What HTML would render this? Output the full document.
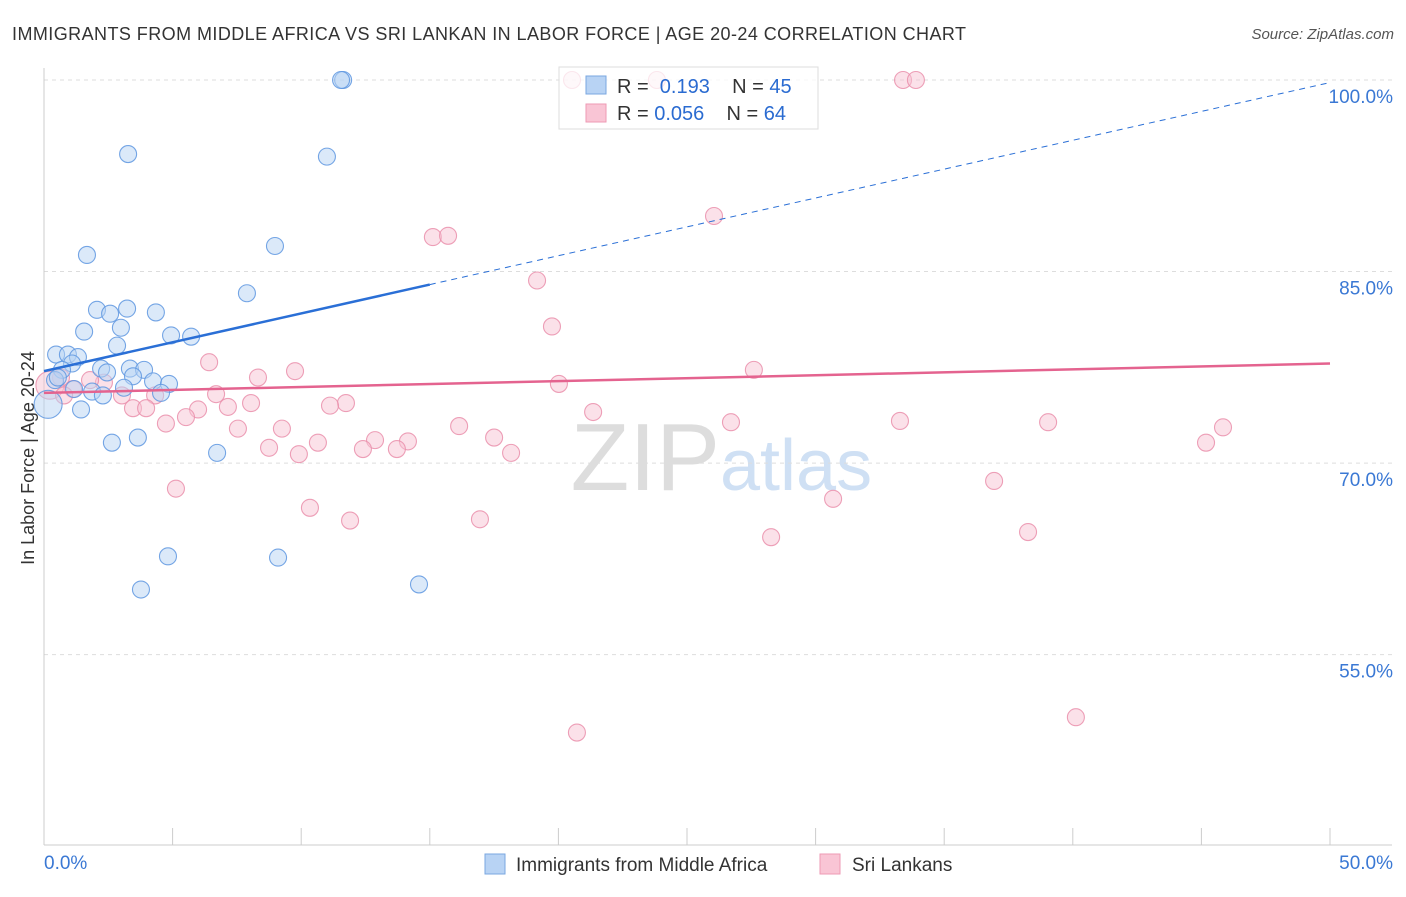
<!DOCTYPE html>
<html><head><meta charset="utf-8"><style>
body{margin:0;background:#fff;font-family:"Liberation Sans",sans-serif}
svg text{font-family:"Liberation Sans",sans-serif}
</style></head><body>
<svg id="c" width="1406" height="892" xmlns="http://www.w3.org/2000/svg">
<text x="12" y="40" font-size="18" fill="#333" textLength="954">IMMIGRANTS FROM MIDDLE AFRICA VS SRI LANKAN IN LABOR FORCE | AGE 20-24 CORRELATION CHART</text>
<text x="1394" y="39" font-size="15" fill="#555" font-style="italic" text-anchor="end">Source: ZipAtlas.com</text>
<text x="720" y="490" font-size="96" fill="#ddd" text-anchor="end" font-family="Liberation Serif">ZIP</text>
<text x="720" y="490" font-size="72" fill="#cfe0f4">atlas</text>
<text transform="translate(34,458) rotate(-90)" font-size="18" fill="#333" text-anchor="middle">In Labor Force | Age 20-24</text>
<g id="grid"></g><g id="pts"></g><g id="lines"></g>
<g>
<rect x="559" y="67" width="259" height="62" fill="#fff" fill-opacity="0.75" stroke="#ddd"/>
<rect x="586" y="76" width="20" height="18" fill="#b8d3f4" stroke="#7aa7e0"/>
<text x="617" y="93" font-size="20" fill="#333">R = <tspan fill="#2a6bd1">&#160;0.193</tspan>&#160;&#160;&#160; N = <tspan fill="#2a6bd1">45</tspan></text>
<rect x="586" y="104" width="20" height="18" fill="#f9c5d5" stroke="#ee9ab4"/>
<text x="617" y="120" font-size="20" fill="#333">R = <tspan fill="#2a6bd1">0.056</tspan>&#160;&#160;&#160; N = <tspan fill="#2a6bd1">64</tspan></text>
</g>
<g>
<rect x="485" y="854" width="20" height="20" fill="#b8d3f4" stroke="#7aa7e0"/>
<text x="516" y="871" font-size="19" fill="#333">Immigrants from Middle Africa</text>
<rect x="820" y="854" width="20" height="20" fill="#f9c5d5" stroke="#ee9ab4"/>
<text x="852" y="871" font-size="19" fill="#333">Sri Lankans</text>
</g>
</svg>
<script>
const yTicks=[100,85,70,55];
const yTickLabels=["100.0%","85.0%","70.0%","55.0%"];
const xTicks=[0,5,10,15,20,25,30,35,40,45,50];
const blueX=[11.63,11.55,3.27,11.0,8.98,1.67,7.89,2.06,3.23,2.57,4.35,1.56,2.99,4.94,5.72,2.84,0.47,0.93,1.32,1.09,2.22,3.34,0.70,2.45,3.89,3.46,0.43,4.24,4.86,3.11,1.87,2.29,4.55,1.17,1.44,3.65,2.64,6.73,4.82,9.10,3.77,14.58,0.16,0.54];
const blueY=[100,100,94.2,94.0,87.0,86.3,83.3,82.0,82.1,81.7,81.8,80.3,80.6,80.0,79.9,79.2,78.5,78.5,78.3,77.8,77.4,77.4,77.3,77.1,77.3,76.8,76.5,76.4,76.2,75.9,75.6,75.3,75.5,75.8,74.2,72.0,71.6,70.8,62.7,62.6,60.1,60.5,74.6,76.7];
const pinkX=[20.53,23.83,33.4,33.9,26.05,15.12,15.71,19.17,19.75,6.42,27.6,9.76,8.32,20.02,0.66,2.33,1.13,6.69,3.03,4.32,11.74,11.12,8.05,3.46,3.97,5.99,7.15,21.35,5.52,4.74,7.54,9.25,26.71,33.28,39.04,16.14,12.87,10.65,14.15,12.40,13.72,8.75,9.91,17.50,18.16,45.18,45.84,5.13,36.94,30.68,10.34,11.90,16.95,38.26,28.27,20.72,40.12,0.23,1.79,0.78];
const pinkY=[100,100,100,100,89.35,87.7,87.8,84.3,80.7,77.9,77.3,77.2,76.7,76.2,76.7,76.3,75.8,75.4,75.3,75.3,74.7,74.5,74.7,74.3,74.3,74.2,74.4,74.0,73.6,73.1,72.7,72.7,73.2,73.3,73.2,72.9,71.8,71.6,71.7,71.1,71.1,71.2,70.7,72.0,70.8,71.6,72.8,68.0,68.6,67.2,66.5,65.5,65.6,64.6,64.2,48.9,50.1,76.1,76.5,75.3];
const blueTrend=[77.2,99.8];
const pinkTrend=[75.5,77.8];
const NS="http://www.w3.org/2000/svg";
const X=v=>44+v*25.72, Y=v=>80+(100-v)*12.77;
function mk(t,a,p){const e=document.createElementNS(NS,t);for(const k in a)e.setAttribute(k,a[k]);p.appendChild(e);return e;}
const g=document.getElementById('grid');
yTicks.forEach((t,i)=>{
 const l=mk('line',{x1:44,x2:1392,y1:Y(t),y2:Y(t),stroke:'#ddd','stroke-dasharray':'4,4'},g);
 
 
 const tx=mk('text',{x:1393,y:Y(t)+23,'font-size':19,fill:'#3a78d4','text-anchor':'end'},g);
 tx.textContent=yTickLabels[i];
 
 
});
const ax=mk('line',{x1:44,x2:44,y1:68,y2:845,stroke:'#ccc'},g);


const bx=mk('line',{x1:44,x2:1392,y1:845,y2:845,stroke:'#ccc'},g);


xTicks.forEach(t=>{
 const l=mk('line',{x1:X(t),x2:X(t),y1:828,y2:845,stroke:'#ccc'},g);
 
 
});
[[0,"0.0%","start",44],[50,"50.0%","end",1393]].forEach(d=>{
 const tx=mk('text',{x:d[3],y:869,'font-size':19,fill:'#3a78d4','text-anchor':d[2]},g);
 tx.textContent=d[1];
 
 
});
const P=document.getElementById('pts');
function pts(xs,ys,fill,stroke,name){xs.forEach((x,i)=>{
 const big=(x<0.3);
 const c=mk('circle',{cx:X(x),cy:Y(ys[i]),r:big?14:8.5,fill:fill,'fill-opacity':0.5,stroke:stroke,'stroke-width':1.1,'stroke-opacity':0.85},P);
 
 
});}
pts(pinkX,pinkY,'#f8c3d3','#ea8fab','sri-lankan-point');
pts(blueX,blueY,'#b8d3f4','#5e97e0','middle-africa-point');
const L=document.getElementById('lines');
const by=x=>blueTrend[0]+(blueTrend[1]-blueTrend[0])*x/50;
const b1=mk('line',{x1:X(0),y1:Y(by(0)),x2:X(15),y2:Y(by(15)),stroke:'#2a6fd6','stroke-width':2.5},L);


const b2=mk('line',{x1:X(15),y1:Y(by(15)),x2:X(50),y2:Y(by(50)),stroke:'#2a6fd6','stroke-width':1,'stroke-dasharray':'6,5'},L);


const p1=mk('line',{x1:X(0),y1:Y(pinkTrend[0]),x2:X(50),y2:Y(pinkTrend[1]),stroke:'#e4638f','stroke-width':2.5},L);


</script>
</body></html>
